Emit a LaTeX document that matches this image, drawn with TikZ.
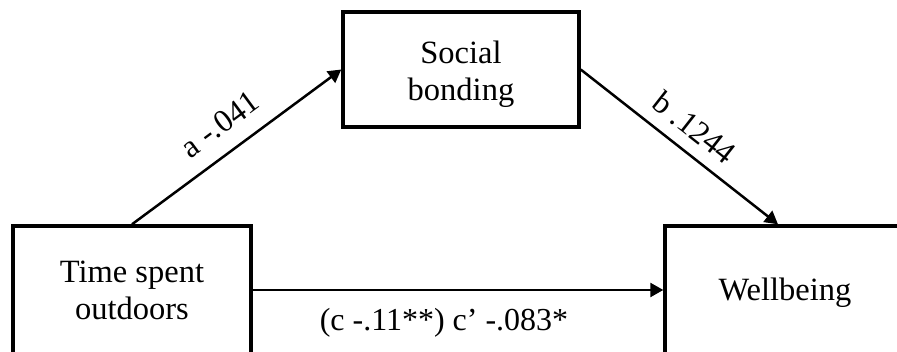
\documentclass[tikz,border=0pt]{standalone}
\usepackage{fontspec}
\setmainfont{Liberation Serif}
\usetikzlibrary{arrows.meta, calc, positioning}
\tikzset{
  varbox/.style  = {draw=black, line width=3.4pt, fill=white, align=center,
                    font=\fontsize{32.5}{37}\selectfont},
  path/.style    = {-{Triangle[length=13pt, width=14pt]}, line width=2.5pt, black},
  coef/.style    = {font=\fontsize{32}{37}\selectfont, inner sep=2pt},
}
\begin{document}
\begin{tikzpicture}[x=1pt,y=-1pt]
  \useasboundingbox (0,0) rectangle (897,352);
  \node[varbox, minimum width=236pt, minimum height=115pt] (social) at (461,69.5) {\rule{0pt}{33pt}Social\\bonding};
  \node[varbox, minimum width=238pt, minimum height=128pt] (time) at (132,290) {Time spent\\outdoors};
  \node[varbox, minimum width=240pt, minimum height=134pt] (well) at (785,293) {Wellbeing};
  % indirect path through the mediator
  \draw[path] (time.north) -- (social.west)
    node[coef, midway, sloped, above=14pt] {a -.041};
  \draw[path] (social.east) -- ([xshift=-7pt]well.north)
    node[coef, midway, sloped, above=10pt] {b .1244};
  % direct path
  \draw[path] (time.east) -- (time.east -| well.west)
    node[coef, midway, below=15pt, xshift=-14pt] {(c -.11**) c’ -.083*};
\end{tikzpicture}
\end{document}
